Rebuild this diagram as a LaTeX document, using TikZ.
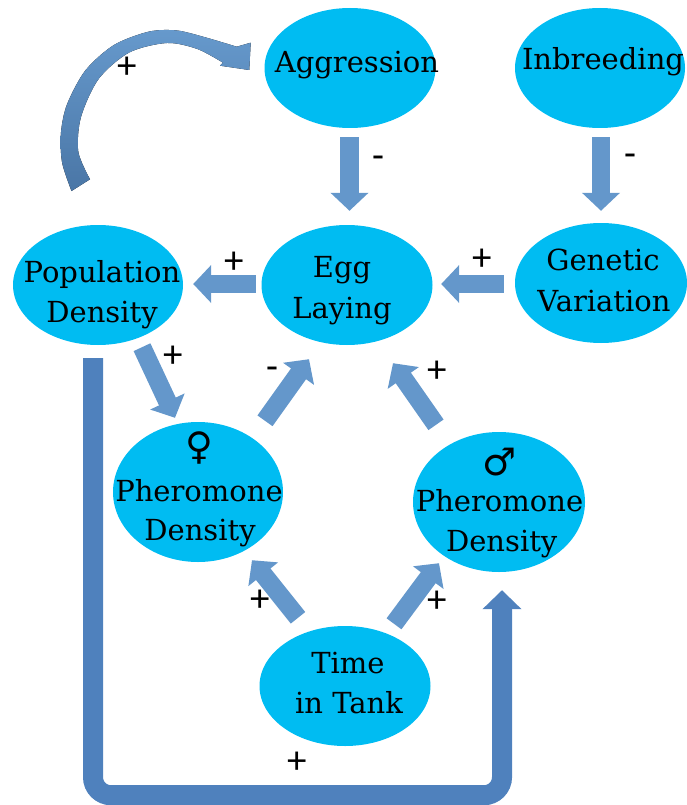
\documentclass[tikz,border=0pt]{standalone}
\usepackage{fontspec}
\setmainfont{DejaVu Serif}
\newfontfamily\labfont{Carlito}
\newfontfamily\symfont{DejaVu Sans}
\usetikzlibrary{arrows.meta,calc,shapes.geometric}
\definecolor{ellc}{RGB}{0,188,242}
\definecolor{arrc}{RGB}{100,151,203}
\definecolor{loopc}{RGB}{79,129,189}
\definecolor{curvetop}{RGB}{102,153,204}
\definecolor{curvebot}{RGB}{74,118,166}
\begin{document}
\begin{tikzpicture}[x=1pt,y=-1pt,
  ell/.style n args={2}{ellipse, fill=ellc, inner sep=0pt, minimum width=#1pt, minimum height=#2pt},
  txt/.style={anchor=base, inner sep=0pt, font=\fontsize{29}{33}\selectfont},
  sym/.style={inner sep=0pt, font=\symfont\fontsize{38}{40}\selectfont},
  lab/.style={inner sep=0pt, font=\labfont\fontsize{39}{42}\selectfont},
  blk/.style={draw=arrc, line width=18.5pt, -{Triangle[width=37pt,length=18pt]}},
  loopar/.style={draw=loopc, line width=20pt, rounded corners=18pt, -{Triangle[width=38pt,length=19pt]}}]
\useasboundingbox (0,0) rectangle (687,805);

% ellipses
\node[ell={171}{120}] (agg) at (350,68) {};
\node[ell={170}{120}] (inb) at (600,68) {};
\node[ell={171}{120}] (egg) at (347,285) {};
\node[ell={172}{120}] (gen) at (601,283) {};
\node[ell={170}{120}] (pop) at (98,285) {};
\node[ell={170}{140}] (fem) at (198,492) {};
\node[ell={172}{140}] (mal) at (499,502) {};
\node[ell={171}{120}] (time) at (345,686) {};

% texts
\node[txt] (tagg) at (357,73) {Aggression};
\node[txt] (tinb) at (603,70) {Inbreeding};
\node[txt] (tegg1) at (342,277) {Egg};
\node[txt] (tegg2) at (342,318) {Laying};
\node[txt] (tpop1) at (102,282) {Population};
\node[txt] (tpop2) at (102,322) {Density};
\node[txt] (tgen1) at (603,270) {Genetic};
\node[txt] (tgen2) at (604,311) {Variation};
\node[sym] (sfem) at (199,448) {♀};
\node[txt] (tfem1) at (199,501.7) {Pheromone};
\node[txt] (tfem2) at (200,540) {Density};
\node[sym] (smal) at (500,462) {♂};
\node[txt] (tmal1) at (499.5,511.7) {Pheromone};
\node[txt] (tmal2) at (501.7,551.7) {Density};
\node[txt] (ttime1) at (348,673.3) {Time};
\node[txt] (ttime2) at (349,713.3) {in Tank};

% block arrows
\draw[blk] ($(agg.south)+(-0.5,9)$) -- ($(egg.north)+(2.5,-14)$);
\draw[blk] ($(inb.south)+(1,9)$) -- ($(gen.north)+(0,-12)$);
\draw[blk] ($(egg.west)+(-5.5,-1)$) -- ($(pop.east)+(10,-1)$);
\draw[blk] ($(gen.west)+(-11,1)$) -- ($(egg.east)+(8.5,-1)$);
\draw[blk] ($(pop.south)+(44,2)$) -- ($(fem.north)+(-23,-4)$);
\draw[blk] ($(fem.north)+(67,-1)$) -- ($(egg.south)+(-38,14)$);
\draw[blk] ($(mal.north)+(-63,-7)$) -- ($(egg.south)+(46,18)$);
\draw[blk] ($(time.north)+(-47,-8)$) -- ($(fem.south)+(54,-2)$);
\draw[blk] ($(time.north)+(49,-2)$) -- ($(mal.south)+(-60,-9)$);

% big loop
\draw[loopar] ($(pop.south)+(-5,13)$) |- ($(mal.south)+(3,223)$) -- ($(mal.south)+(3,18)$);

% curved arrow
\fill[top color=curvetop, bottom color=curvebot]
  plot[smooth] coordinates {(71.5,191) (62.1,162.6) (60.9,133.2) (67,104.4) (85.4,70.4) (113.8,45.1) (148.5,31.7) (176.3,30.4) (203.4,36.8) (236.7,46.7)}
  -- (250.7,42.7) -- (249.3,70) -- (220,65.7) -- (223,62.7)
  -- plot[smooth] coordinates {(223,62.7) (197.4,49) (167,43) (129.4,52.4) (98.8,78.7) (81,117) (78.3,151.7) (90,179.3)}
  -- cycle;

% labels
\node[lab] (l1) at (378,162) {-};
\node[lab] (l2) at (630,160) {-};
\node[lab] (l3) at (234,263) {+};
\node[lab] (l4) at (482,260) {+};
\node[lab] (l5) at (173,357) {+};
\node[lab] (l6) at (272,373) {-};
\node[lab] (l7) at (437,372) {+};
\node[lab] (l8) at (260,601) {+};
\node[lab] (l9) at (437,602) {+};
\node[lab] (l10) at (297,763) {+};
\node[lab] (l11) at (127,68) {+};
\end{tikzpicture}
\end{document}
